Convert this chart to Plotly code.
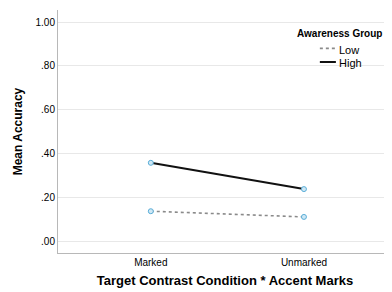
import plotly.graph_objects as go

categories = ["Marked", "Unmarked"]
low_values = [0.136, 0.110]
high_values = [0.357, 0.237]
y_tickvals = [0.0, 0.2, 0.4, 0.6, 0.8, 1.0]
y_ticktext = [".00", ".20", ".40", ".60", ".80", "1.00"]
legend_title = "Awareness Group"
series_names = ["Low", "High"]

FONT = "Liberation Sans, Arial, sans-serif"
marker = dict(size=5, color="#cfe8f5", line=dict(color="#5aaed8", width=1))

fig = go.Figure()
fig.add_trace(go.Scatter(x=[0, 1], y=low_values, mode="lines+markers", name=series_names[0],
                         line=dict(color="#8a8a8a", width=1.6, dash="dot"), marker=marker))
fig.add_trace(go.Scatter(x=[0, 1], y=high_values, mode="lines+markers", name=series_names[1],
                         line=dict(color="#111111", width=2), marker=marker))

# page body has an 8px margin, so the figure is drawn 8px smaller and offset
fig.update_layout(
    width=384, height=284,
    margin=dict(l=50, r=0, t=2, b=39, autoexpand=False),
    paper_bgcolor="white", plot_bgcolor="white",
    showlegend=False,
    font=dict(family=FONT, color="#000000"),
    xaxis=dict(range=[-0.606, 1.575], tickvals=[0, 1], ticktext=categories,
               showgrid=False, zeroline=False, showline=True, linecolor="#b8b8b8", linewidth=1,
               tickfont=dict(size=10, color="#000000"), ticks="", fixedrange=True, automargin=False,
               title=dict(text="<b>Target Contrast Condition * Accent Marks</b>",
                          font=dict(size=13, color="#000000"), standoff=8)),
    yaxis=dict(range=[-0.0548, 1.0548], tickvals=y_tickvals, ticktext=y_ticktext,
               showgrid=True, gridcolor="#e8e8e8", gridwidth=1, zeroline=False,
               showline=True, linecolor="#b8b8b8", linewidth=1, automargin=False,
               tickfont=dict(size=10, color="#000000"), ticks="",
               title=dict(text="<b>Mean Accuracy</b>", font=dict(size=12, color="#000000"), standoff=10)),
)

# Legend (drawn in paper coordinates)
fig.add_annotation(xref="paper", yref="paper", x=0.844, y=0.905, text="<b>" + legend_title + "</b>",
                   showarrow=False, xanchor="center", yanchor="middle",
                   font=dict(size=10, color="#000000"))
fig.add_shape(type="line", xref="paper", yref="paper", x0=0.784, x1=0.829, y0=0.842, y1=0.842,
              line=dict(color="#8a8a8a", width=1.6, dash="dot"))
fig.add_shape(type="line", xref="paper", yref="paper", x0=0.784, x1=0.832, y0=0.786, y1=0.786,
              line=dict(color="#111111", width=2))
fig.add_annotation(xref="paper", yref="paper", x=0.836, y=0.834, text=series_names[0],
                   showarrow=False, xanchor="left", yanchor="middle",
                   font=dict(size=11, color="#000000"))
fig.add_annotation(xref="paper", yref="paper", x=0.836, y=0.780, text=series_names[1],
                   showarrow=False, xanchor="left", yanchor="middle",
                   font=dict(size=11, color="#000000"))

fig.write_html("out.html")
